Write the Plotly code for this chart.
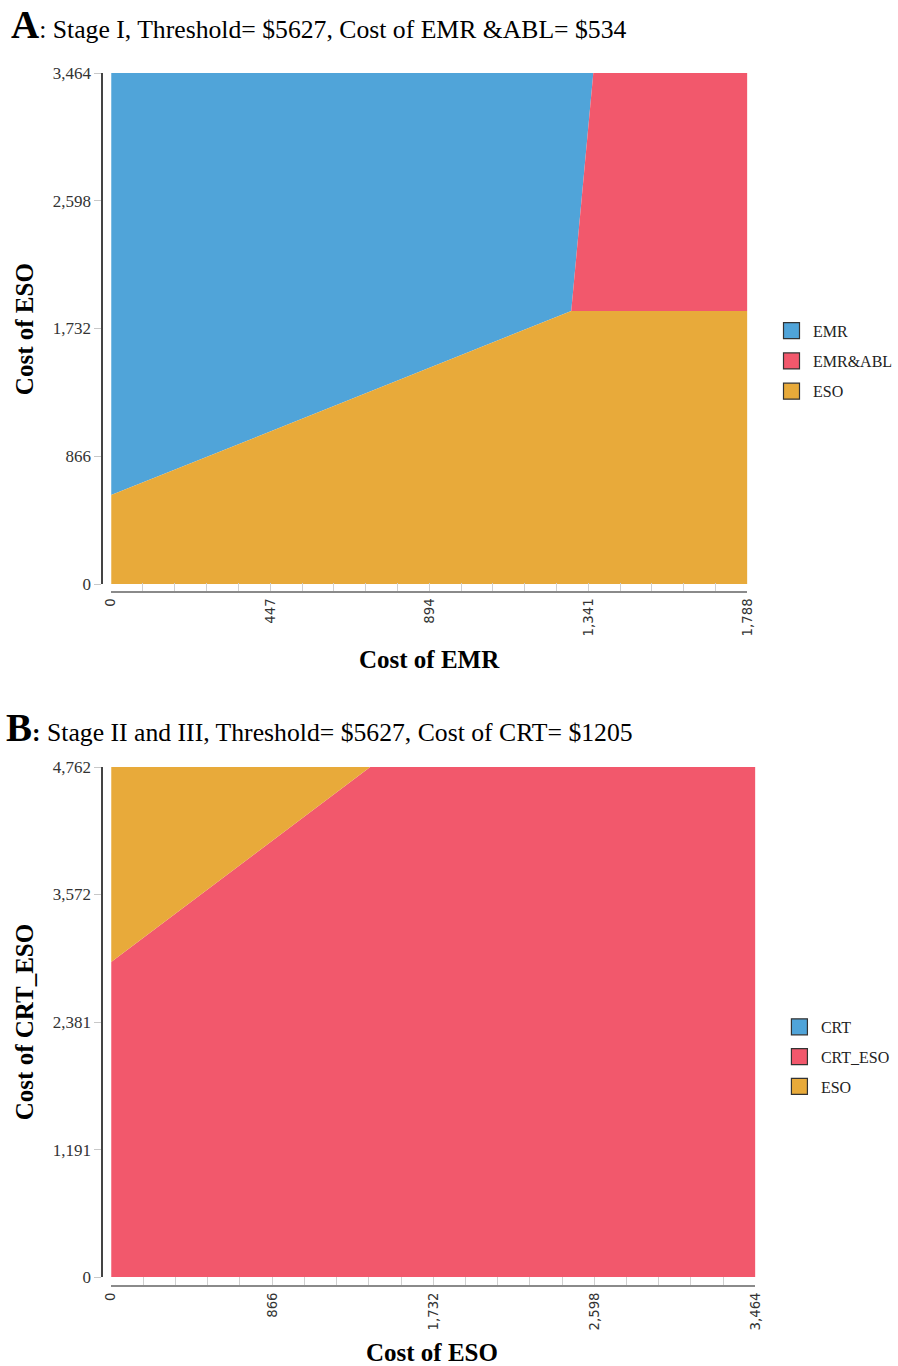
import plotly.graph_objects as go

W, H = 898, 1366

# ---------- Data (region vertices) ----------
# Panel A: x = Cost of EMR, y = Cost of ESO
a_emr_x = [0, 1293, 1355, 0]
a_emr_y = [603, 1851, 3464, 3464]
a_emrabl_x = [1293, 1788, 1788, 1355]
a_emrabl_y = [1851, 1851, 3464, 3464]
a_eso_x = [0, 1788, 1788, 1293, 0]
a_eso_y = [0, 0, 1851, 1851, 603]
a_xticks = [0, 447, 894, 1341, 1788]
a_xticklabels = ["0", "447", "894", "1,341", "1,788"]
a_yticks = [0, 866, 1732, 2598, 3464]
a_yticklabels = ["0", "866", "1,732", "2,598", "3,464"]
a_legend = ["EMR", "EMR&ABL", "ESO"]

# Panel B: x = Cost of ESO, y = Cost of CRT_ESO
b_crteso_x = [0, 3464, 3464, 1393, 0]
b_crteso_y = [0, 0, 4762, 4762, 2941]
b_eso_x = [0, 1393, 0]
b_eso_y = [2941, 4762, 4762]
b_xticks = [0, 866, 1732, 2598, 3464]
b_xticklabels = ["0", "866", "1,732", "2,598", "3,464"]
b_yticks = [0, 1191, 2381, 3572, 4762]
b_yticklabels = ["0", "1,191", "2,381", "3,572", "4,762"]
b_legend = ["CRT", "CRT_ESO", "ESO"]

BLUE = "#50A4D9"
RED = "#F2586C"
ORANGE = "#E8AA3A"
SERIF = "Liberation Serif"

fig = go.Figure()

def region(x, y, color, xa, ya):
    fig.add_trace(go.Scatter(x=x, y=y, fill="toself", fillcolor=color, mode="lines",
                             line=dict(width=0, color=color), showlegend=False,
                             hoverinfo="skip", xaxis=xa, yaxis=ya))

region(a_emr_x, a_emr_y, BLUE, "x", "y")
region(a_emrabl_x, a_emrabl_y, RED, "x", "y")
region(a_eso_x, a_eso_y, ORANGE, "x", "y")
region(b_crteso_x, b_crteso_y, RED, "x2", "y2")
region(b_eso_x, b_eso_y, ORANGE, "x2", "y2")

def legend_item(name, color, legend, xa, ya):
    fig.add_trace(go.Scatter(x=[None], y=[None], mode="markers", name=name,
                             marker=dict(symbol="square", size=16, color=color,
                                         line=dict(width=1.2, color="#333")),
                             legend=legend, legendgroup=legend + name,
                             xaxis=xa, yaxis=ya))

for n, c in zip(a_legend, [BLUE, RED, ORANGE]):
    legend_item(n, c, "legend", "x", "y")
for n, c in zip(b_legend, [BLUE, RED, ORANGE]):
    legend_item(n, c, "legend2", "x2", "y2")

# target picture pixel -> page pixel (compensates the capture framing)
def ix(t):
    return (t - 7.9) / 0.9829

def iy(t):
    return (t - 9.0) / 0.986

def px_x(t):
    return ix(t) / W

def px_y(t):
    return 1 - iy(t) / H

xtickfont = dict(family="DejaVu Sans", size=13.3, color="#333")
ytickfont = dict(family=SERIF, size=17, color="#333")

common_x = dict(showgrid=False, zeroline=False, showline=True, linecolor="#8a8a8a",
                linewidth=2, ticks="inside", ticklen=8, tickcolor="#d0d0d0", tickwidth=1,
                tickangle=-90, tickfont=xtickfont, fixedrange=True, anchor="free")
common_y = dict(showgrid=False, zeroline=False, showline=True, linecolor="#444",
                linewidth=1.5, ticks="outside", ticklen=7, tickcolor="#c8c8c8", tickwidth=1,
                tickfont=ytickfont, fixedrange=True, anchor="free")

fig.update_layout(
    width=W, height=H,
    margin=dict(l=0, r=0, t=0, b=0),
    paper_bgcolor="white", plot_bgcolor="white",
    xaxis=dict(common_x, domain=[px_x(111), px_x(747)], range=[0, 1788],
               tickvals=a_xticks, ticktext=a_xticklabels, position=px_y(592),
               minor=dict(dtick=89.4, tick0=0, ticks="inside", ticklen=8,
                          tickcolor="#d0d0d0", tickwidth=1)),
    yaxis=dict(common_y, domain=[px_y(584), px_y(73)], range=[0, 3464],
               tickvals=a_yticks, ticktext=a_yticklabels, position=px_x(102)),
    xaxis2=dict(common_x, domain=[px_x(111), px_x(755)], range=[0, 3464],
                tickvals=b_xticks, ticktext=b_xticklabels, position=px_y(1286),
                minor=dict(dtick=173.2, tick0=0, ticks="inside", ticklen=8,
                           tickcolor="#d0d0d0", tickwidth=1)),
    yaxis2=dict(common_y, domain=[px_y(1277), px_y(767)], range=[0, 4762],
                tickvals=b_yticks, ticktext=b_yticklabels, position=px_x(102)),
    legend=dict(x=775 / W, y=1 - 309 / H, xanchor="left", yanchor="top",
                font=dict(family=SERIF, size=16, color="#222"), itemwidth=33,
                tracegroupgap=6.5, bgcolor="rgba(0,0,0,0)"),
    legend2=dict(x=783 / W, y=1 - 1015 / H, xanchor="left", yanchor="top",
                 font=dict(family=SERIF, size=16, color="#222"), itemwidth=33,
                 tracegroupgap=6, bgcolor="rgba(0,0,0,0)"),
    showlegend=True,
)

ann = []
ann.append(dict(text="<b><span style='font-size:39px'>A</span></b>: Stage I, Threshold= $5627, Cost of EMR &amp;ABL= $534",
                x=px_x(9), y=px_y(24), xref="paper", yref="paper", xanchor="left",
                yanchor="middle", showarrow=False,
                font=dict(family=SERIF, size=25.7, color="black")))
ann.append(dict(text="<b><span style='font-size:39px'>B</span>:</b> Stage II and III, Threshold= $5627, Cost of CRT= $1205",
                x=-4 / W, y=px_y(727), xref="paper", yref="paper", xanchor="left",
                yanchor="middle", showarrow=False,
                font=dict(family=SERIF, size=25.7, color="black")))
ann.append(dict(text="<b>Cost of EMR</b>", x=px_x(429), y=px_y(659), xref="paper",
                yref="paper", xanchor="center", yanchor="middle", showarrow=False,
                font=dict(family=SERIF, size=25, color="black")))
ann.append(dict(text="<b>Cost of ESO</b>", x=px_x(24), y=px_y(329), xref="paper",
                yref="paper", xanchor="center", yanchor="middle", showarrow=False,
                textangle=-90, font=dict(family=SERIF, size=25, color="black")))
ann.append(dict(text="<b>Cost of ESO</b>", x=px_x(432), y=px_y(1352), xref="paper",
                yref="paper", xanchor="center", yanchor="middle", showarrow=False,
                font=dict(family=SERIF, size=25, color="black")))
ann.append(dict(text="<b>Cost of CRT_ESO</b>", x=px_x(24), y=px_y(1022), xref="paper",
                yref="paper", xanchor="center", yanchor="middle", showarrow=False,
                textangle=-90, font=dict(family=SERIF, size=25, color="black")))
fig.update_layout(annotations=ann)

fig.write_html("out.html", config={"displayModeBar": False},
               post_script="document.body.style.margin='0';document.body.style.padding='0';document.body.style.overflow='hidden';")
